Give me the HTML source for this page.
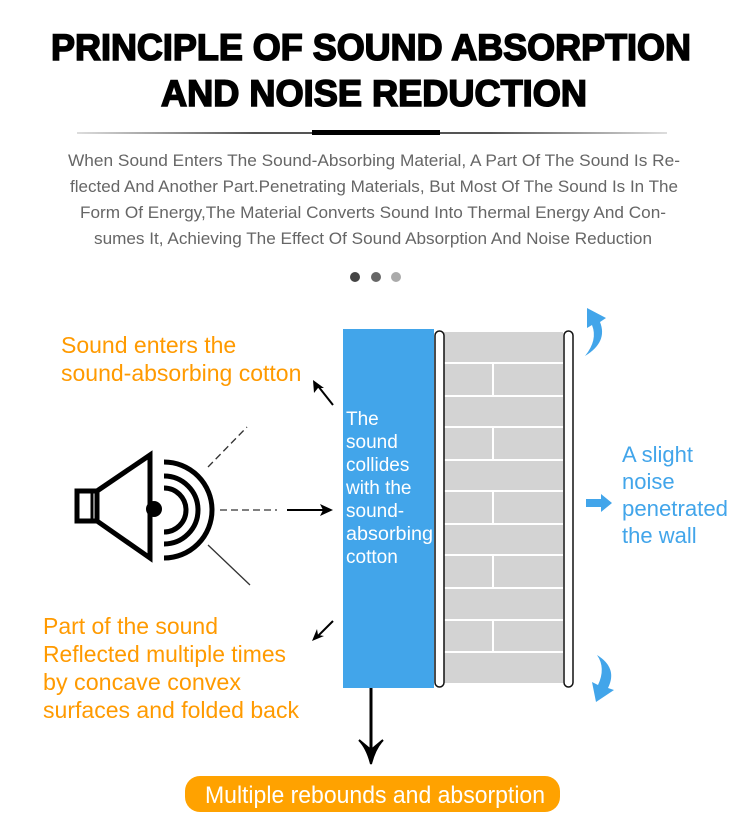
<!DOCTYPE html>
<html><head><meta charset="utf-8"><style>
html,body{margin:0;padding:0;background:#fff;}
svg{display:block}
</style></head><body>
<svg width="750" height="836" viewBox="0 0 750 836" xmlns="http://www.w3.org/2000/svg" font-family="Liberation Sans, Arial, sans-serif">
<defs>
<linearGradient id="g" x1="0" x2="1"><stop offset="0" stop-color="#ddd"/><stop offset="0.3" stop-color="#555"/><stop offset="0.7" stop-color="#555"/><stop offset="1" stop-color="#ddd"/></linearGradient>
</defs>
<text x="371" y="60" text-anchor="middle" font-weight="bold" font-size="37" textLength="640" lengthAdjust="spacingAndGlyphs" fill="#000" stroke="#000" stroke-width="1.6">PRINCIPLE OF SOUND ABSORPTION</text>
<text x="374" y="106" text-anchor="middle" font-weight="bold" font-size="37" textLength="426" lengthAdjust="spacingAndGlyphs" fill="#000" stroke="#000" stroke-width="1.6">AND NOISE REDUCTION</text>
<rect x="77" y="132" width="590" height="2" fill="url(#g)"/>
<rect x="312" y="130" width="128" height="5" fill="#000"/>
<g fill="#666" font-size="17" text-anchor="middle">
<text x="374" y="166" textLength="612" lengthAdjust="spacingAndGlyphs">When Sound Enters The Sound-Absorbing Material, A Part Of The Sound Is Re-</text>
<text x="374" y="192" textLength="608" lengthAdjust="spacingAndGlyphs">flected And Another Part.Penetrating Materials, But Most Of The Sound Is In The</text>
<text x="373" y="218" textLength="586" lengthAdjust="spacingAndGlyphs">Form Of Energy,The Material Converts Sound Into Thermal Energy And Con-</text>
<text x="373" y="244" textLength="558" lengthAdjust="spacingAndGlyphs">sumes It, Achieving The Effect Of Sound Absorption And Noise Reduction</text>
</g>
<circle cx="355" cy="277" r="5" fill="#444"/>
<circle cx="376" cy="277" r="5" fill="#666"/>
<circle cx="396" cy="277" r="5" fill="#aaa"/>

<!-- wall -->
<rect x="444" y="332" width="119" height="351" fill="#d3d3d3"/>
<g stroke="#fff" stroke-width="2">
<line x1="444" y1="363" x2="563" y2="363"/><line x1="444" y1="396" x2="563" y2="396"/>
<line x1="444" y1="427" x2="563" y2="427"/><line x1="444" y1="460" x2="563" y2="460"/>
<line x1="444" y1="491" x2="563" y2="491"/><line x1="444" y1="524" x2="563" y2="524"/>
<line x1="444" y1="555" x2="563" y2="555"/><line x1="444" y1="588" x2="563" y2="588"/>
<line x1="444" y1="620" x2="563" y2="620"/><line x1="444" y1="652" x2="563" y2="652"/>
<line x1="493" y1="363" x2="493" y2="396"/><line x1="493" y1="427" x2="493" y2="460"/>
<line x1="493" y1="491" x2="493" y2="524"/><line x1="493" y1="555" x2="493" y2="588"/>
<line x1="493" y1="620" x2="493" y2="652"/>
</g>
<rect x="343" y="329" width="91" height="359" fill="#42a5ea"/>
<rect x="435" y="331" width="9" height="356" rx="4.5" fill="#fff" stroke="#111" stroke-width="1.5"/>
<rect x="564" y="331" width="9" height="356" rx="4.5" fill="#fff" stroke="#111" stroke-width="1.5"/>
<g fill="#fff" font-size="19">
<text x="346" y="425">The</text><text x="346" y="448">sound</text><text x="346" y="471">collides</text>
<text x="346" y="494">with the</text><text x="346" y="517">sound-</text><text x="346" y="540" textLength="87" lengthAdjust="spacingAndGlyphs">absorbing</text><text x="346" y="563">cotton</text>
</g>

<!-- speaker -->
<g fill="none" stroke="#000" stroke-width="5">
<rect x="77" y="491" width="20" height="30"/>
<path d="M97 491 L150 455 L150 558 L97 521"/>
<path d="M164 488 A22 22 0 0 1 164 532"/>
<path d="M164 476 A34 34 0 0 1 164 544"/>
<path d="M164 462 A48 48 0 0 1 164 558"/>
</g>
<line x1="92" y1="491" x2="92" y2="521" stroke="#000" stroke-width="3"/>
<circle cx="154" cy="509" r="8" fill="#000"/>
<g stroke="#333" stroke-width="1.3" stroke-dasharray="7,4" fill="none">
<line x1="208" y1="467" x2="247" y2="427"/>
<line x1="220" y1="510" x2="277" y2="510"/>
</g>
<line x1="208" y1="545" x2="250" y2="585" stroke="#333" stroke-width="1.3"/>
<g stroke="#000" stroke-width="2">
<line x1="287" y1="510" x2="326" y2="510"/>
<line x1="333" y1="405" x2="318" y2="386"/>
<line x1="333" y1="621" x2="318" y2="636"/>
</g>
<g fill="#000">
<path d="M333 510 L320 504 L323 510 L320 516 Z"/>
<path d="M313 380 L314 393 L318 388 L324 388 Z"/>
<path d="M312 641 L317 629 L318 635 L324 636 Z"/>
</g>
<line x1="371" y1="688" x2="371" y2="755" stroke="#000" stroke-width="3"/>
<path d="M359 740 Q367 748 371 764 Q375 748 383 740 L371 750 Z" fill="#000" stroke="#000" stroke-width="2"/>

<!-- blue arrows -->
<path d="M585 356 Q608 342 600 322 L606 318 L587 308 L587 328 L592 325 Q598 340 585 356 Z" fill="#42a5ea"/>
<path d="M597 655 Q618 668 608 688 L614 690 L596 702 L592 682 L598 685 Q606 668 597 655 Z" fill="#42a5ea"/>
<path d="M586 499 L601 499 L601 494 L612 503 L601 512 L601 507 L586 507 Z" fill="#42a5ea"/>

<g fill="#ff9a00" font-size="23">
<text x="61" y="353">Sound enters the</text>
<text x="61" y="381">sound-absorbing cotton</text>
<text x="43" y="634" textLength="175" lengthAdjust="spacingAndGlyphs">Part of the sound</text>
<text x="43" y="662" textLength="243" lengthAdjust="spacingAndGlyphs">Reflected multiple times</text>
<text x="43" y="690" textLength="198" lengthAdjust="spacingAndGlyphs">by concave convex</text>
<text x="43" y="718" textLength="256" lengthAdjust="spacingAndGlyphs">surfaces and folded back</text>
</g>
<g fill="#42a5ea" font-size="22">
<text x="622" y="462">A slight</text><text x="622" y="489">noise</text>
<text x="622" y="516" textLength="106" lengthAdjust="spacingAndGlyphs">penetrated</text><text x="622" y="543">the wall</text>
</g>
<rect x="185" y="776" width="375" height="36" rx="15" fill="#ffa200"/>
<text x="375" y="803" text-anchor="middle" fill="#fff" font-size="24" textLength="340" lengthAdjust="spacingAndGlyphs">Multiple rebounds and absorption</text>
</svg>
</body></html>
